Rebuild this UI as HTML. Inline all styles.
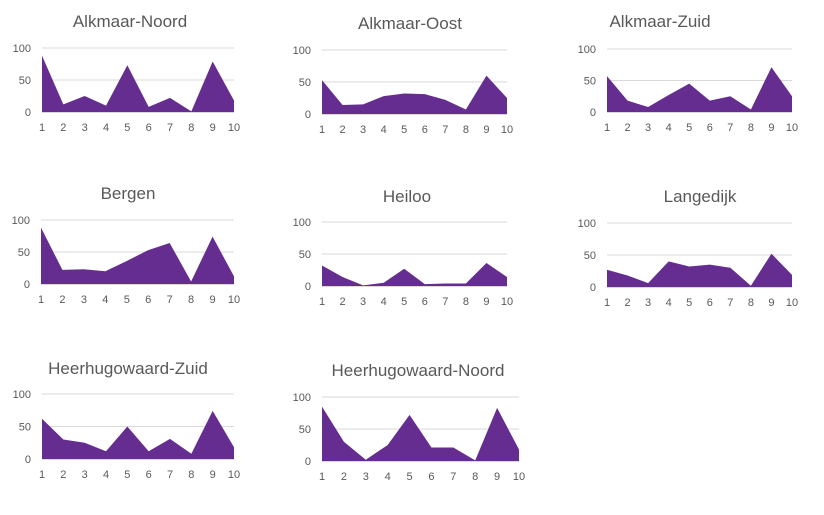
<!DOCTYPE html>
<html><head><meta charset="utf-8"><style>
body{margin:0;background:#fff;width:824px;height:510px;overflow:hidden;font-family:"Liberation Sans",sans-serif}
</style></head><body>
<svg id="s" width="824" height="510"></svg>
<script>
const categories=[1,2,3,4,5,6,7,8,9,10];
const yTicks=[0,50,100];
const titles=["Alkmaar-Noord","Alkmaar-Oost","Alkmaar-Zuid","Bergen","Heiloo","Langedijk","Heerhugowaard-Zuid","Heerhugowaard-Noord"];
const sAN=[88,12,25,10,73,8,22,1,79,18];
const sAO=[53,14,15,28,32,31,22,7,60,25];
const sAZ=[57,18,8,27,45,18,25,4,71,25];
const sBE=[88,22,23,20,36,53,64,4,74,12];
const sHE=[32,14,1,5,27,3,4,4,36,14];
const sLA=[27,18,6,40,32,35,30,2,52,19];
const sHZ=[62,30,25,12,50,12,31,8,74,18];
const sHN=[85,30,2,25,72,21,21,1,83,18];
const series=[sAN,sAO,sAZ,sBE,sHE,sLA,sHZ,sHN];
// layout: x1,x10,y0,y100,titleX,titleY
const layout=[[42,234,112,48,130,27],[322,507,114,50,410,29],[607,792,112,49,660,27],
[41,234,284,220,128,199],[322,507,286,222,407,202],[607,792,287,223,700,202],
[42,234,459,394,128,374],[322,519,461,397,418,376]];
const ns="http://www.w3.org/2000/svg",svg=document.getElementById('s');
function mk(t,a,p){const e=document.createElementNS(ns,t);for(const k in a)e.setAttribute(k,a[k]);(p||svg).appendChild(e);return e;}
series.forEach((vals,i)=>{
 const [x1,x2,y0,y1,tx,ty]=layout[i];
 const g=mk('g',{});
 
 
 const X=j=>x1+(x2-x1)*j/(categories.length-1);
 const Y=v=>y0-(y0-y1)*v/100;
 const t=mk('text',{x:tx,y:ty,'text-anchor':'middle','font-size':17,fill:'#595959'},g);t.textContent=titles[i];
 
 yTicks.forEach(v=>{
  if(v>0){const l=mk('line',{x1:x1,x2:x2,y1:Y(v),y2:Y(v),stroke:'#d9d9d9','stroke-width':1},g);
  }
  const tl=mk('text',{x:x1-11,y:Y(v)+4,'text-anchor':'end','font-size':11,fill:'#595959'},g);tl.textContent=v;
  
 });
 let d='M'+X(0)+','+Y(0);
 vals.forEach((v,j)=>{d+=' L'+X(j)+','+Y(v);});
 d+=' L'+X(vals.length-1)+','+Y(0)+' Z';
 const a=mk('path',{d:d,fill:'#652d90'},g);
 
 const ax=mk('line',{x1:x1,x2:x2,y1:y0+0.5,y2:y0+0.5,stroke:'#d9d9d9'},g);
 
 categories.forEach((c,j)=>{
  const xl=mk('text',{x:X(j),y:y0+19,'text-anchor':'middle','font-size':11,fill:'#595959'},g);xl.textContent=c;
  
 });
});
</script>
</body></html>
